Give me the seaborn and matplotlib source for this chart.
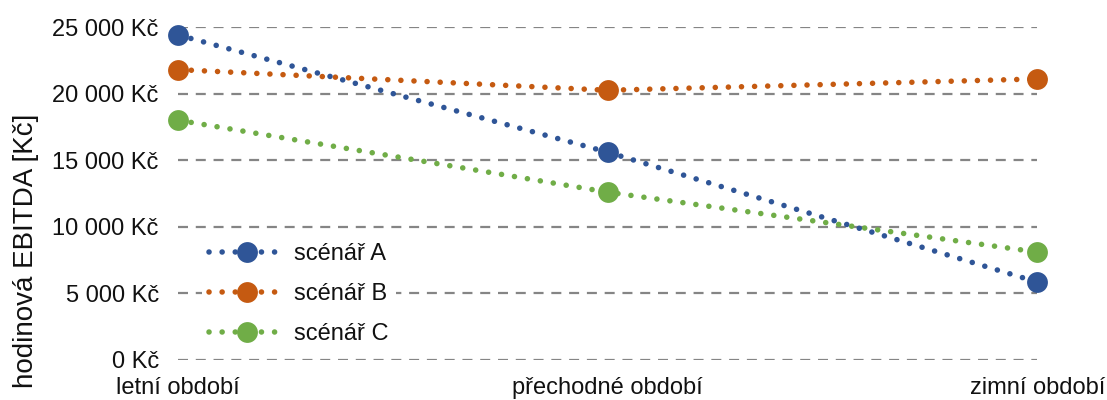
import matplotlib.pyplot as plt
import matplotlib.ticker as mticker
import pandas as pd
import seaborn as sns

# data
periods = ['letní období', 'přechodné období', 'zimní období']
scenario_a = [24400, 15600, 5850]
scenario_b = [21800, 20250, 21100]
scenario_c = [18000, 12600, 8100]
scenarios = ['scénář A', 'scénář B', 'scénář C']
colors = ['#2F5597', '#C55A11', '#70AD47']

df = pd.DataFrame({
    'obdobi': periods * 3,
    'ebitda': scenario_a + scenario_b + scenario_c,
    'scenar': [s for s in scenarios for _ in periods],
})

sns.set_style('white')
plt.rcParams['font.family'] = ['Liberation Sans', 'DejaVu Sans']

fig = plt.figure(figsize=(11.07, 4), dpi=100)
ax = fig.add_axes([0.161, 0.1, 0.776, 0.8325])

sns.lineplot(data=df, x='obdobi', y='ebitda', hue='scenar', palette=colors,
             marker='o', markersize=15, markeredgewidth=0,
             linewidth=4, linestyle=(0, (0.01, 2.35)), ax=ax, legend=True)

for line in ax.get_lines():
    line.set_dash_capstyle('round')
    line.set_clip_on(False)

ax.set_xlim(0, 2)
ax.set_ylim(0, 25000)
ax.set_yticks(range(0, 25001, 5000))
ax.yaxis.set_major_formatter(mticker.FuncFormatter(
    lambda v, p: '{:,.0f} Kč'.format(v).replace(',', ' ')))
ax.grid(axis='y', color='#858585', linestyle=(0, (4.5, 3.5)), linewidth=1.6)
ax.grid(axis='x', visible=False)
ax.set_axisbelow(True)
sns.despine(ax=ax, left=True, bottom=True)
ax.tick_params(axis='both', length=0, labelsize=17, colors='#111111')
ax.tick_params(axis='y', pad=14)
ax.tick_params(axis='x', pad=12)
ax.set_xlabel('')
ax.set_ylabel('hodinová EBITDA [Kč]', fontsize=20, color='#111111')
ax.yaxis.set_label_coords(-0.162, 0.327)

handles, labels = ax.get_legend_handles_labels()
for h in handles:
    h.set_dash_capstyle('round')
leg = ax.legend(handles, labels, loc='upper left', bbox_to_anchor=(0.172, 0.44),
                bbox_transform=fig.transFigure, frameon=True, fancybox=False,
                facecolor='white', edgecolor='none', framealpha=1,
                borderpad=0.3, fontsize=17,
                handlelength=3.2, handletextpad=0.4, labelspacing=0.76)
for t in leg.get_texts():
    t.set_color('#111111')

plt.savefig('out.png', dpi=100)
